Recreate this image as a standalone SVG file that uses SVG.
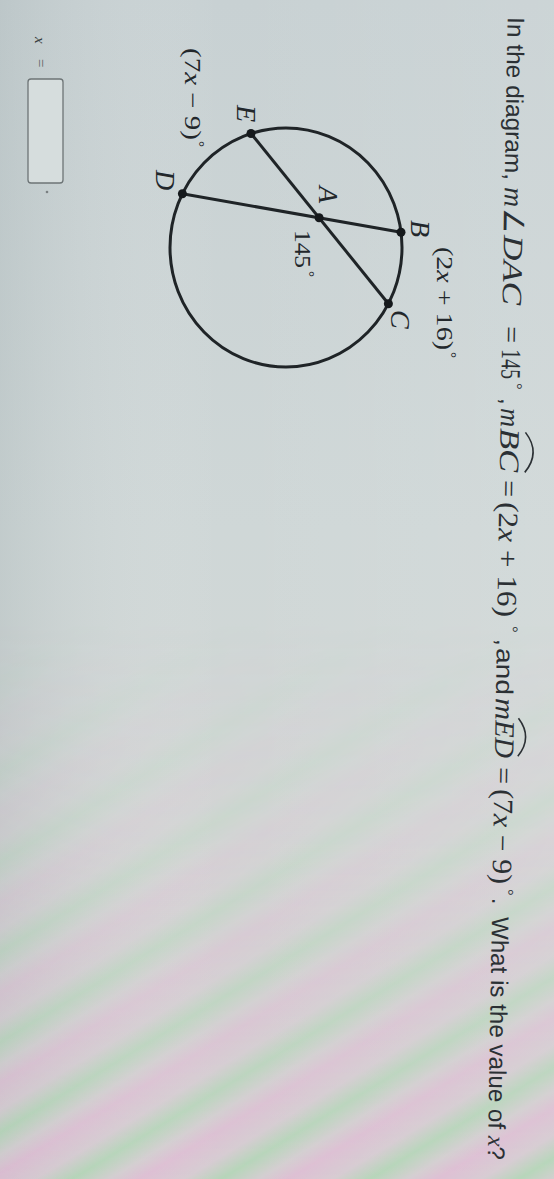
<svg xmlns="http://www.w3.org/2000/svg" width="554" height="1179" viewBox="0 0 554 1179">
<style>
.sans{font-family:"Liberation Sans",Arial,sans-serif;font-size:24px;fill:#2b3034}
.mi{font-family:"Liberation Serif","Times New Roman",serif;font-style:italic;font-size:28px;fill:#2b3034}
.mr{font-family:"Liberation Serif","Times New Roman",serif;font-size:28px;fill:#2b3034}
.deg{font-family:"Liberation Serif","Times New Roman",serif;font-size:16px;fill:#2b3034}
.lbl{font-family:"Liberation Serif","Times New Roman",serif;font-style:italic;font-size:28px;fill:#22272b}
.lblr{font-family:"Liberation Serif","Times New Roman",serif;font-size:24px;fill:#22272b}
.ldeg{font-family:"Liberation Serif","Times New Roman",serif;font-size:15px;fill:#22272b}
.arc{fill:none;stroke:#2b3034;stroke-width:1.6}
.line{fill:none;stroke:#1f2427;stroke-width:3}
.dot{fill:#15191c}
</style>
<defs>
<linearGradient id="bg" x1="0" y1="0" x2="0" y2="1">
<stop offset="0" stop-color="#c8d1d3"/>
<stop offset="0.45" stop-color="#cfd7d7"/>
<stop offset="0.7" stop-color="#d2d7d5"/>
<stop offset="1" stop-color="#d3d3d2"/>
</linearGradient>
<linearGradient id="bgx" x1="0" y1="0" x2="1" y2="0">
<stop offset="0" stop-color="#9aa8aa" stop-opacity="0.25"/>
<stop offset="0.4" stop-color="#ffffff" stop-opacity="0"/>
<stop offset="1" stop-color="#ffffff" stop-opacity="0.08"/>
</linearGradient>
<linearGradient id="bands" gradientUnits="userSpaceOnUse" x1="0" y1="0" x2="40" y2="66" spreadMethod="repeat">
<stop offset="0" stop-color="#e2b6d4"/>
<stop offset="0.3" stop-color="#d8c8d2"/>
<stop offset="0.55" stop-color="#a9d6ae"/>
<stop offset="0.8" stop-color="#d4ccd0"/>
<stop offset="1" stop-color="#e2b6d4"/>
</linearGradient>
<linearGradient id="fadeg" gradientUnits="userSpaceOnUse" x1="0" y1="620" x2="0" y2="1179">
<stop offset="0" stop-color="#000"/>
<stop offset="0.4" stop-color="#333"/>
<stop offset="1" stop-color="#b0b0b0"/>
</linearGradient>
<mask id="fade"><rect width="554" height="1179" fill="url(#fadeg)"/></mask>
</defs>
<rect width="554" height="1179" fill="url(#bg)"/>
<rect width="554" height="1179" fill="url(#bgx)"/>
<rect width="554" height="1179" fill="url(#bands)" mask="url(#fade)"/>

<g id="question" transform="translate(508,0) rotate(91)">
<text class="sans" x="17" y="0" textLength="163" lengthAdjust="spacingAndGlyphs">In the diagram,</text>
<text class="mi" x="187" y="0" textLength="20" lengthAdjust="spacingAndGlyphs">m</text>
<text class="mr" x="208" y="0" textLength="25" lengthAdjust="spacingAndGlyphs">∠</text>
<text class="mi" x="235" y="0" textLength="70" lengthAdjust="spacingAndGlyphs">DAC</text>
<text class="mr" x="326" y="0" textLength="17" lengthAdjust="spacingAndGlyphs">=</text>
<text class="mr" x="349" y="0" textLength="30" lengthAdjust="spacingAndGlyphs">145</text>
<text class="deg" x="383" y="-10">°</text>
<text class="sans" x="398" y="0">,</text>
<text class="mi" x="408" y="0" textLength="19" lengthAdjust="spacingAndGlyphs">m</text>
<text class="mi" x="428" y="0" textLength="44" lengthAdjust="spacingAndGlyphs">BC</text>
<path class="arc" d="M432,-25 Q452,-41 472,-25"/>
<text class="mr" x="480" y="0" textLength="17" lengthAdjust="spacingAndGlyphs">=</text>
<text class="mr" x="502" y="0" textLength="115" lengthAdjust="spacingAndGlyphs">(2<tspan font-style="italic">x</tspan> + 16)</text>
<text class="deg" x="626" y="-10">°</text>
<text class="sans" x="639" y="0">,</text>
<text class="sans" x="648" y="0" textLength="47" lengthAdjust="spacingAndGlyphs">and</text>
<text class="mi" x="698" y="0" textLength="22" lengthAdjust="spacingAndGlyphs">m</text>
<text class="mi" x="720" y="0" textLength="38" lengthAdjust="spacingAndGlyphs">ED</text>
<path class="arc" d="M718,-23 Q737,-38 756,-23"/>
<text class="mr" x="767" y="0" textLength="17" lengthAdjust="spacingAndGlyphs">=</text>
<text class="mr" x="789" y="0" textLength="95" lengthAdjust="spacingAndGlyphs">(7<tspan font-style="italic">x</tspan> − 9)</text>
<text class="deg" x="889" y="-10">°</text>
<text class="sans" x="898" y="0">.</text>
<text class="sans" x="917" y="0" textLength="243" lengthAdjust="spacingAndGlyphs">What is the value of <tspan font-family="Liberation Serif, serif" font-style="italic">x</tspan>?</text>
</g>

<g id="answer">
<text transform="translate(35,37) rotate(90)" font-family="Liberation Serif, serif" font-style="italic" font-size="15" fill="#3a3f42">x</text>
<text transform="translate(36,59) rotate(90)" font-family="Liberation Serif, serif" font-size="15" fill="#5a5f62">=</text>
<rect x="28" y="79" width="35" height="104" rx="3" fill="#d6dddd" stroke="#6d7476" stroke-width="1.3"/>
<circle cx="47" cy="192" r="1.3" fill="#7a8082"/>
</g>

<g id="connectors">
<ellipse class="line" cx="286" cy="247.5" rx="116" ry="119.5"/>
<line class="line" x1="251" y1="133.5" x2="388.4" y2="303.7"/>
<line class="line" x1="182.4" y1="193.8" x2="401" y2="232.2"/>
</g>

<g id="node-E"><circle class="dot" cx="251" cy="133.5" r="4.5"/><text class="lbl" transform="translate(237,105) rotate(90)">E</text></g>
<g id="node-D"><circle class="dot" cx="182.4" cy="193.8" r="4.5"/><text class="lbl" transform="translate(156,170) rotate(90)">D</text></g>
<g id="node-A"><circle class="dot" cx="319.1" cy="217.8" r="4.5"/><text class="lbl" transform="translate(319,186) rotate(90)">A</text></g>
<g id="node-B"><circle class="dot" cx="401" cy="232.2" r="4.5"/><text class="lbl" transform="translate(411,220) rotate(90)">B</text></g>
<g id="node-C"><circle class="dot" cx="388.4" cy="303.7" r="4.5"/><text class="lbl" transform="translate(391,310) rotate(90)">C</text></g>

<g id="label-145">
<text class="lblr" transform="translate(295,230) rotate(90)" textLength="38" lengthAdjust="spacingAndGlyphs">145</text>
<text class="ldeg" transform="translate(295,271) rotate(90)" y="-9">°</text>
</g>
<g id="label-BC">
<text class="lblr" transform="translate(437,247) rotate(90)" textLength="103" lengthAdjust="spacingAndGlyphs">(2<tspan font-style="italic">x</tspan> + 16)</text>
<text class="ldeg" transform="translate(437,352) rotate(90)" y="-9">°</text>
</g>
<g id="label-ED">
<text class="lblr" transform="translate(185,48) rotate(90)" textLength="92" lengthAdjust="spacingAndGlyphs">(7<tspan font-style="italic">x</tspan> − 9)</text>
<text class="ldeg" transform="translate(185,141) rotate(90)" y="-9">°</text>
</g>
</svg>
